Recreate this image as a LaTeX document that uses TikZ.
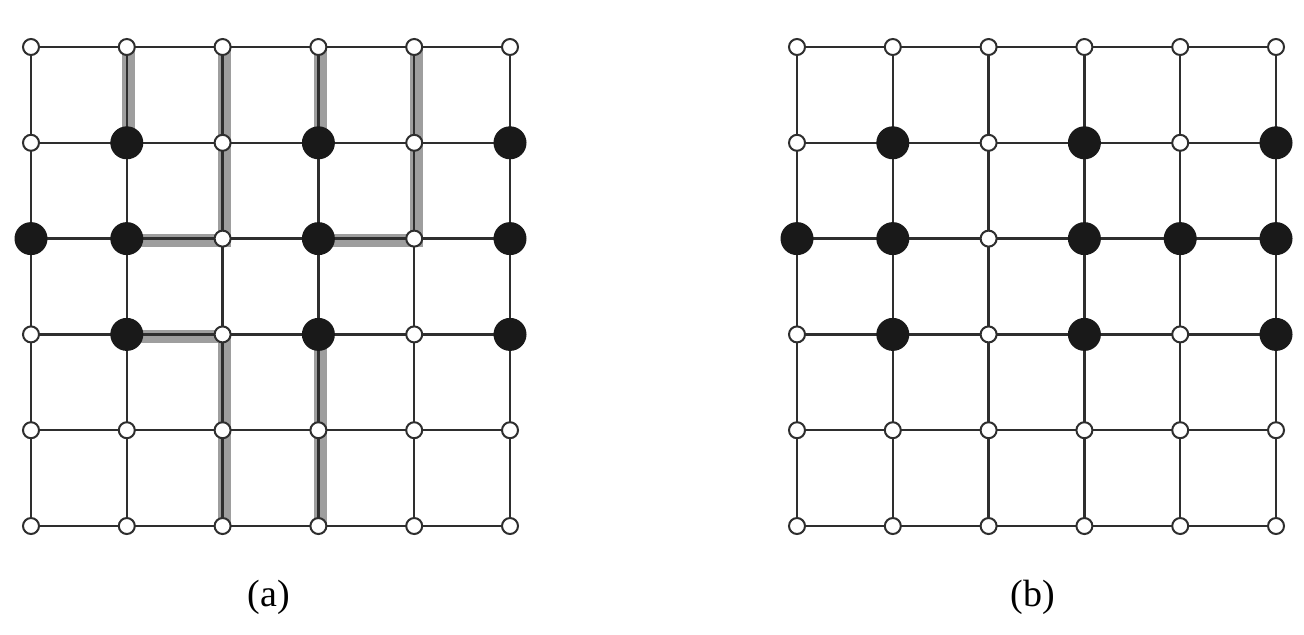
\documentclass[tikz,border=0pt]{standalone}
\usepackage{fontspec}
\setmainfont{Liberation Serif}
\begin{document}
\begin{tikzpicture}[x=0.5pt,y=-0.5pt,
  gridline/.style={line width=1.15pt, draw=black!82},
  band/.style={line width=6.5pt, draw=black!38, line cap=square, line join=miter},
  opennode/.style={circle, draw=black!82, fill=white, line width=1pt, minimum size=8pt, inner sep=0pt},
  fullnode/.style={circle, fill=black!90, minimum size=16.5pt, inner sep=0pt},
  lbl/.style={font=\fontsize{19}{23}\selectfont, inner sep=0pt}]
\useasboundingbox[fill=white] (0,0) rectangle (1304,634);
% grid points
\foreach \i in {0,...,5}{
  \foreach \j in {0,...,5}{
    \coordinate (a-\i-\j) at ({31+95.8*\i},{47+95.8*\j});
    \coordinate (b-\i-\j) at ({797+95.8*\i},{47+95.8*\j});
  }
}
% gray bands in (a)
\def\sh#1{([shift={(1pt,-1pt)}]#1)}
\draw[band] \sh{a-1-0} -- \sh{a-1-1};
\draw[band] \sh{a-1-2} -- \sh{a-2-2} -- \sh{a-2-0};
\draw[band] \sh{a-3-0} -- \sh{a-3-1};
\draw[band] \sh{a-3-2} -- \sh{a-4-2} -- \sh{a-4-0};
\draw[band] \sh{a-1-3} -- \sh{a-2-3} -- \sh{a-2-5};
\draw[band] \sh{a-3-3} -- \sh{a-3-5};
% grid lines
\foreach \g in {a,b}{
  \foreach \i in {0,...,5}{
    \foreach \j [evaluate=\j as \k using int(\j+1)] in {0,...,4}{
      \draw[gridline] (\g-\i-\j) -- (\g-\i-\k);
      \draw[gridline] (\g-\j-\i) -- (\g-\k-\i);
    }
  }
}
% nodes of (a)
\foreach \i/\j in {0/0,1/0,2/0,3/0,4/0,5/0,
                   0/1,2/1,4/1,
                   2/2,4/2,
                   0/3,2/3,4/3,
                   0/4,1/4,2/4,3/4,4/4,5/4,
                   0/5,1/5,2/5,3/5,4/5,5/5}
  \node[opennode] (na-\i-\j) at (a-\i-\j) {};
\foreach \i/\j in {1/1,3/1,5/1, 0/2,1/2,3/2,5/2, 1/3,3/3,5/3}
  \node[fullnode] (na-\i-\j) at (a-\i-\j) {};
% nodes of (b)
\foreach \i/\j in {0/0,1/0,2/0,3/0,4/0,5/0,
                   0/1,2/1,4/1,
                   2/2,
                   0/3,2/3,4/3,
                   0/4,1/4,2/4,3/4,4/4,5/4,
                   0/5,1/5,2/5,3/5,4/5,5/5}
  \node[opennode] (nb-\i-\j) at (b-\i-\j) {};
\foreach \i/\j in {1/1,3/1,5/1, 0/2,1/2,3/2,4/2,5/2, 1/3,3/3,5/3}
  \node[fullnode] (nb-\i-\j) at (b-\i-\j) {};
% labels
\node[lbl] (la) at (269,597) {(a)};
\node[lbl] (lb) at (1033,597) {(b)};
\end{tikzpicture}
\end{document}
